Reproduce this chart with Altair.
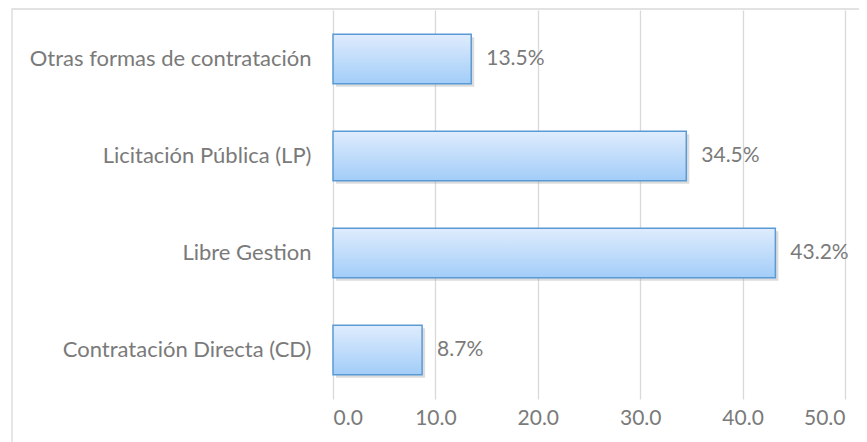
import altair as alt
import pandas as pd

categories = ["Otras formas de contratación", "Licitación Pública (LP)", "Libre Gestion", "Contratación Directa (CD)"]
values = [13.5, 34.5, 43.2, 8.7]
labels = ["13.5%", "34.5%", "43.2%", "8.7%"]
x_ticks = [0, 10, 20, 30, 40, 50]

df = pd.DataFrame({"cat": categories, "val": values, "lab": labels})

FONT = "Lato"
GRAY = "#7a7a7a"
FS = 21

y_enc = alt.Y("cat:N", sort=categories, title=None,
              scale=alt.Scale(paddingInner=0.49, paddingOuter=0.25),
              axis=alt.Axis(labelFont=FONT, labelFontSize=22, labelColor=GRAY, labelLimit=0,
                            labelPadding=22, ticks=False, domain=False, grid=False))
x_enc = alt.X("val:Q", title=None,
              scale=alt.Scale(domain=[0, 50], nice=False),
              axis=alt.Axis(values=x_ticks, format=".1f", labelFont=FONT, labelFontSize=FS,
                            labelColor=GRAY, labelPadding=8, ticks=False, domain=False,
                            grid=True, gridColor="#d9d9d9", gridWidth=1.3))

base = alt.Chart(df)

shadow = base.mark_bar(color="#9a9a9a", opacity=0.35, xOffset=3, yOffset=3).encode(
    x=x_enc, y=y_enc)

bars = base.mark_bar(
    stroke="#5b9bd5", strokeWidth=1.5,
    color=alt.Gradient(gradient="linear", x1=0, y1=0, x2=0, y2=1,
                       stops=[alt.GradientStop(offset=0, color="#dfecfd"),
                              alt.GradientStop(offset=1, color="#a2cdf8")])
).encode(x=x_enc, y=y_enc)

text = base.mark_text(align="left", dx=15, font=FONT, fontSize=FS, color=GRAY).encode(
    x="val:Q", y=alt.Y("cat:N", sort=categories), text="lab:N")

border = alt.Chart(pd.DataFrame({"a": [0]})).mark_rect(
    fill=None, stroke="#d9d9d9", strokeWidth=1.3, clip=False
).encode(x=alt.value(-321), x2=alt.value(700), y=alt.value(-1), y2=alt.value(600))

chart = alt.layer(border, shadow, bars, text).properties(
    width=512, height=389,
    autosize=alt.AutoSizeParams(type="none"),
    padding={"left": 325, "top": 2, "right": 14, "bottom": 45},
).configure_view(stroke=None)

chart.save("out.html", embed_options={"renderer": "svg", "actions": False})
